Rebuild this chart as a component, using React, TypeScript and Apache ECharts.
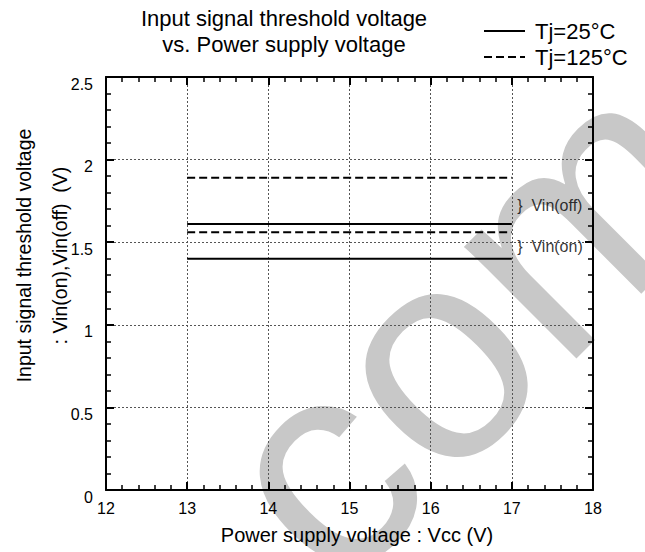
import React, { useEffect, useRef } from "react";
import * as echarts from "echarts";

const titleLines = ["Input signal threshold voltage", "vs. Power supply voltage"];
const xAxisName = "Power supply voltage : Vcc (V)";
const yAxisNameLines = ["Input signal threshold voltage", ": Vin(on),Vin(off)  (V)"];
const legendNames = ["Tj=25°C", "Tj=125°C"];
const vccRange = [13, 17];
const vinOff25 = [1.61, 1.61];
const vinOn25 = [1.4, 1.4];
const vinOff125 = [1.89, 1.89];
const vinOn125 = [1.56, 1.56];
const annotations = [
  { text: "}  Vin(off)", x: 17.06, y: 1.725 },
  { text: "}  Vin(on)", x: 17.06, y: 1.475 },
];
const watermark = "com";

const FONT = '"Liberation Sans", Arial, Helvetica, sans-serif';

function pairs(ys: number[]) {
  return vccRange.map((x, i) => [x, ys[i]]);
}

export default function App() {
  const ref = useRef<HTMLDivElement>(null);
  useEffect(() => {
    if (!ref.current) return;
    document.body.style.margin = "0";
    const chart = echarts.init(ref.current, undefined, { renderer: "svg" });
    const axisLine = { show: true, onZero: false, lineStyle: { color: "#000", width: 2 } };
    const axisTick = { show: true, inside: true, length: 8, lineStyle: { color: "#000", width: 2 } };
    const minorTick = { show: true, splitNumber: 5, length: 5, lineStyle: { color: "#000", width: 1.5 } };
    const splitLine = { show: true, lineStyle: { color: "#555", width: 1, type: [2, 2] } };
    const lineSeries = (name: string, ys: number[], dashed: boolean) => ({
      type: "line",
      name,
      symbol: "none",
      silent: true,
      lineStyle: { color: "#000", width: 2, type: dashed ? [8, 4] : "solid" },
      itemStyle: { color: "#000" },
      data: pairs(ys),
      z: 5,
    });
    chart.setOption({
      animation: false,
      textStyle: { fontFamily: FONT, color: "#000" },
      title: {
        text: titleLines.join("\n"),
        left: 284,
        top: 5,
        padding: 0,
        textAlign: "center",
        textStyle: { fontFamily: FONT, fontSize: 22, fontWeight: "normal", color: "#000", lineHeight: 26 },
      },
      legend: {
        data: legendNames,
        orient: "vertical",
        left: 483,
        top: 18,
        padding: 0,
        itemGap: 0,
        itemWidth: 41,
        itemHeight: 14,
        selectedMode: false,
        itemStyle: { color: "rgba(0,0,0,0)", borderColor: "rgba(0,0,0,0)", borderWidth: 0 },
        textStyle: { fontFamily: FONT, fontSize: 22, lineHeight: 26, color: "#000", padding: [0, 0, 0, 5] },
      },
      grid: {
        left: 106,
        right: 52,
        top: 77,
        bottom: 62,
        containLabel: false,
        outerBoundsMode: "none",
      },
      xAxis: [
        {
          type: "value",
          position: "bottom",
          min: 12,
          max: 18,
          interval: 1,
          name: xAxisName,
          nameLocation: "middle",
          nameGap: 35,
          nameMoveOverlap: false,
          nameTextStyle: { fontFamily: FONT, fontSize: 20, color: "#000", lineHeight: 20, padding: [0, 0, 0, 15] },
          axisLine,
          axisTick,
          minorTick,
          splitLine,
          axisLabel: { fontFamily: FONT, fontSize: 16, color: "#000", margin: 10 },
        },
        {
          type: "value",
          position: "top",
          min: 12,
          max: 18,
          interval: 1,
          axisLine,
          axisTick,
          minorTick,
          splitLine: { show: false },
          axisLabel: { show: false },
        },
      ],
      yAxis: [
        {
          type: "value",
          position: "left",
          min: 0,
          max: 2.5,
          interval: 0.5,
          name: yAxisNameLines.join("\n"),
          nameLocation: "middle",
          nameRotate: 90,
          nameGap: 28,
          nameMoveOverlap: false,
          nameTextStyle: { fontFamily: FONT, fontSize: 19.5, color: "#000", lineHeight: 36, padding: [0, 0, 0, 56] },
          axisLine,
          axisTick,
          minorTick,
          splitLine,
          axisLabel: {
            fontFamily: FONT,
            fontSize: 16,
            color: "#000",
            margin: 13,
            verticalAlign: "top",
            lineHeight: 14,
          },
        },
        {
          type: "value",
          position: "right",
          min: 0,
          max: 2.5,
          interval: 0.5,
          axisLine,
          axisTick,
          minorTick,
          splitLine: { show: false },
          axisLabel: { show: false },
        },
      ],
      graphic: [
        {
          type: "text",
          x: 448,
          y: 378,
          rotation: Math.PI / 4,
          z: -10,
          silent: true,
          style: {
            text: watermark,
            x: -233,
            y: -27,
            font: '300px "Liberation Sans", Arial, sans-serif',
            fill: "#c8c8c8",
            textAlign: "left",
            textVerticalAlign: "middle",
          },
        },
      ],
      series: [
        lineSeries(legendNames[0], vinOff25, false),
        lineSeries(legendNames[0], vinOn25, false),
        lineSeries(legendNames[1], vinOff125, true),
        lineSeries(legendNames[1], vinOn125, true),
        {
          type: "scatter",
          name: "annotations",
          symbolSize: 1,
          silent: true,
          itemStyle: { color: "rgba(0,0,0,0)" },
          data: annotations.map((a) => ({
            value: [a.x, a.y],
            label: { formatter: a.text },
          })),
          label: {
            show: true,
            position: "right",
            distance: 0,
            fontFamily: FONT,
            fontSize: 16,
            color: "#000",
          },
          z: 6,
        },
      ],
    });
    return () => chart.dispose();
  }, []);
  return <div ref={ref} style={{ width: 645, height: 552, position: "absolute", left: 0, top: 0 }} />;
}
